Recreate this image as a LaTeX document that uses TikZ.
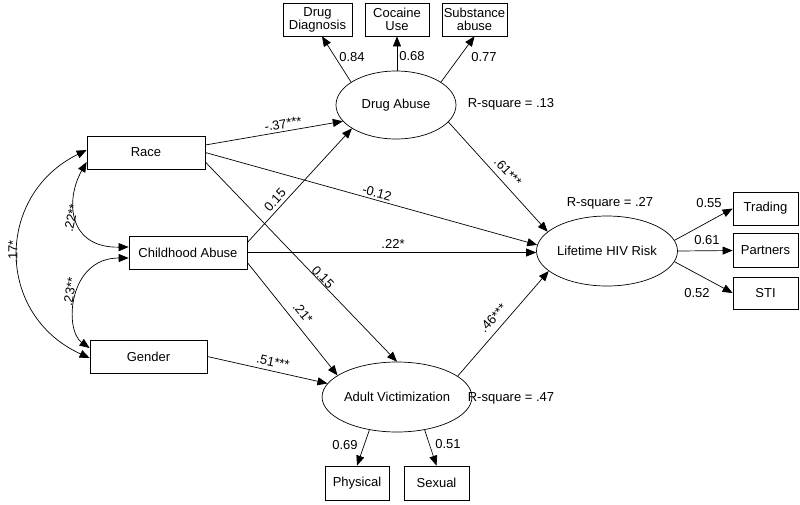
\documentclass[tikz,border=0pt]{standalone}
\usepackage{fontspec}
\setmainfont{Liberation Sans}
\usetikzlibrary{shapes.geometric,arrows.meta,calc}
\begin{document}
\begin{tikzpicture}[x=1pt,y=-1pt,
  txt/.style={font=\fontsize{13}{13}\selectfont},
  box/.style={draw,line width=0.7pt,rectangle,inner sep=0pt,align=center,txt},
  lat/.style={draw,line width=0.7pt,ellipse,inner sep=0pt,txt},
  pth/.style={line width=0.7pt,-{Triangle[length=10pt,width=8pt]}},
  cov/.style={line width=0.7pt,{Triangle[length=10pt,width=8pt]}-{Triangle[length=10pt,width=8pt]}},
  lbl/.style={txt,inner sep=0pt}]
\fill[white] (0,0) rectangle (800,504);
\useasboundingbox (0,0) rectangle (800,504);
% exogenous
\node[box,minimum width=118pt,minimum height=33pt] (race) at (146,152.5) {Race};
\node[box,minimum width=118pt,minimum height=33pt] (child) at (188,252.5) {Childhood Abuse};
\node[box,minimum width=117pt,minimum height=33pt] (gender) at (148.5,356.5) {Gender};
% latent
\node[lat,minimum width=120pt,minimum height=68pt] (drug) at (396,105) {Drug Abuse};
\node[lat,minimum width=126pt,minimum height=70pt] (hiv) at (607,251) {Lifetime HIV Risk};
\node[lat,minimum width=128pt,minimum height=70pt] (av) at (397,397) {Adult Victimization};
% indicators
\node[box,minimum width=69pt,minimum height=33pt] (diag) at (317.5,19.5) {Drug\\Diagnosis};
\node[box,minimum width=64pt,minimum height=33pt] (coc) at (397,19.5) {Cocaine\\Use};
\node[box,minimum width=65pt,minimum height=33pt] (sub) at (474.5,19.5) {Substance\\abuse};
\node[box,minimum width=65pt,minimum height=33pt] (trad) at (765.5,208.5) {Trading};
\node[box,minimum width=65pt,minimum height=34pt] (part) at (765.5,250.5) {Partners};
\node[box,minimum width=65pt,minimum height=32pt] (sti) at (765.5,293) {STI};
\node[box,minimum width=64pt,minimum height=34pt] (phys) at (357,483) {Physical};
\node[box,minimum width=65pt,minimum height=34pt] (sex) at (436.5,483) {Sexual};
% R-square
\node[lbl] (r1) at (511,104) {R-square = .13};
\node[lbl] (r2) at (610,203) {R-square = .27};
\node[lbl] (r3) at (511,398) {R-square = .47};
% structural paths
\draw[pth] ($(race.east)+(0,-7.5)$) -- (drug.197);
\draw[pth] (race.east) -- (hiv.175);
\draw[pth] ($(race.east)+(0,9.5)$) -- (av.90);
\draw[pth] ($(child.east)+(0,-10)$) -- (drug.208);
\draw[pth] (child.east) -- (child.east -| hiv.west);
\draw[pth] ($(child.east)+(0,10)$) -- (av.160);
\draw[pth] (gender.east) -- (av.169);
\draw[pth] (drug.-18) -- (hiv.162);
\draw[pth] (av.19) -- (hiv.199);
% measurement
\draw[pth] (drug.153) -- ($(diag.south)+(4.5,0)$);
\draw[pth] (coc.south |- drug.north) -- (coc.south);
\draw[pth] (drug.27) -- (sub.south);
\draw[pth] (hiv.9) -- (trad.west);
\draw[pth] (hiv.east) -- (part.west);
\draw[pth] (hiv.-9) -- (sti.west);
\draw[pth] (av.230) -- (phys.north);
\draw[pth] (av.310) -- (sex.north);
% covariances
\draw[cov] ($(race.west)+(0,-2.5)$) .. controls (-5,195) and (-5,315) .. ($(gender.west)+(0,1.5)$);
\draw[cov] ($(race.west)+(0,9.5)$) .. controls (65,200) and (68,248) .. ($(child.west)+(0,-5.5)$);
\draw[cov] ($(child.west)+(0,5.5)$) .. controls (68,258) and (64,330) .. ($(gender.west)+(0,-8.5)$);
% path labels
\node[lbl,rotate=10] (l1) at (283,124) {-.37***};
\node[lbl,rotate=-15] (l2) at (377,193) {-0.12};
\node[lbl,rotate=-46] (l3) at (323,277) {0.15};
\node[lbl,rotate=48] (l4) at (275,200) {0.15};
\node[lbl] (l5) at (393,244) {.22*};
\node[lbl,rotate=-50] (l6) at (303,313) {.21*};
\node[lbl,rotate=-12] (l7) at (273,362) {.51***};
\node[lbl,rotate=-47] (l8) at (508,172) {.61***};
\node[lbl,rotate=47] (l9) at (493,318) {.46***};
\node[lbl,rotate=90] (c1) at (13,252) {.17*};
\node[lbl,rotate=78] (c2) at (71,218) {.22**};
\node[lbl,rotate=80] (c3) at (70,292) {.23**};
% loadings
\node[lbl] (m1) at (352,57) {0.84};
\node[lbl] (m2) at (412,56) {0.68};
\node[lbl] (m3) at (484,57) {0.77};
\node[lbl] (m4) at (709,203) {0.55};
\node[lbl] (m5) at (707,240) {0.61};
\node[lbl] (m6) at (697,293) {0.52};
\node[lbl] (m7) at (345,445) {0.69};
\node[lbl] (m8) at (448,444) {0.51};
\end{tikzpicture}
\end{document}
